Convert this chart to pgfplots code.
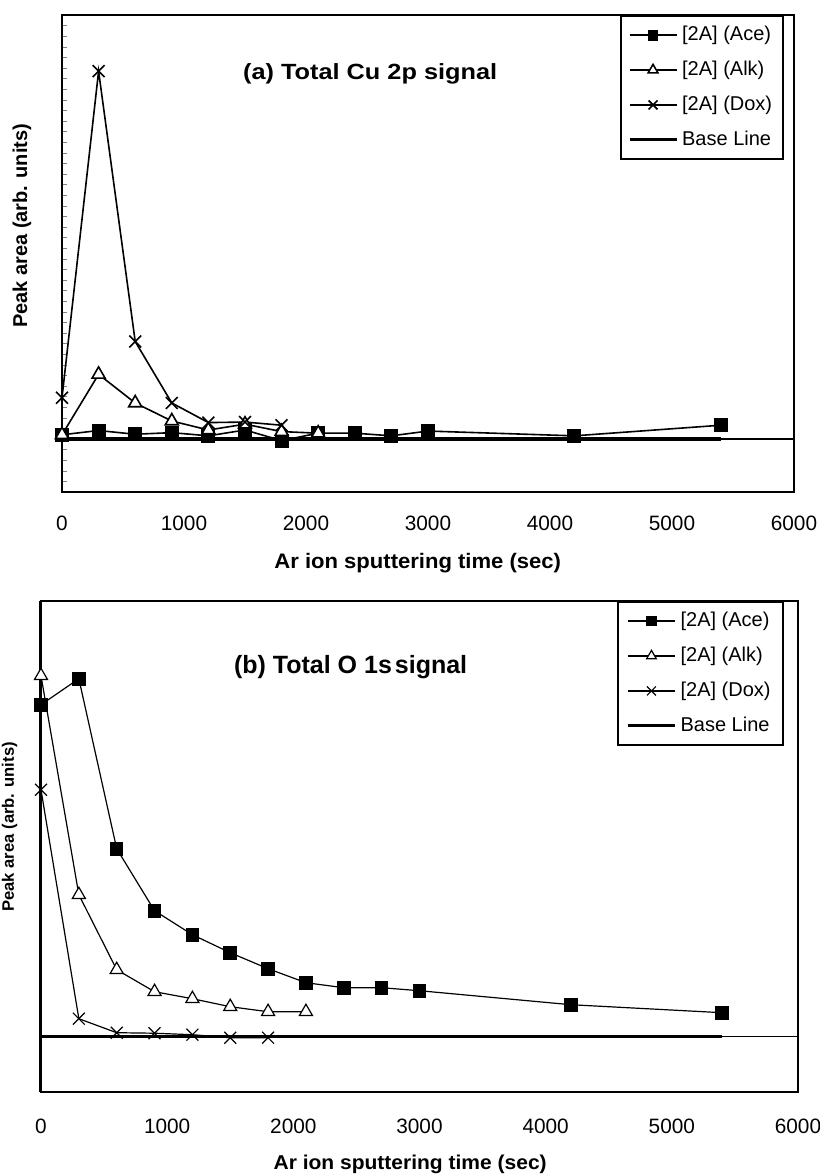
\documentclass[border=0pt]{standalone}
\usepackage{fontspec}
\setmainfont{Liberation Sans}
\newfontfamily\titlefont[FakeStretch=1.15]{Liberation Sans}
\newfontfamily\labfont[FakeStretch=1.05]{Liberation Sans}
\usepackage{pgfplots}
\pgfplotsset{compat=1.18}

\pgfplotsset{
  xpschart/.style={
    scale only axis, clip=false,
    xmin=0, xmax=6000,
    xtick={0,1000,...,6000},
    xticklabels={0,1000,2000,3000,4000,5000,6000},
    xtick style={draw=none},
    xticklabel style={font=\fontsize{10.4}{12}\selectfont, anchor=base},
    axis line style={line width=1pt},
    legend cell align=left,
    legend style={draw=black, line width=0.8pt, inner xsep=3.5pt, inner ysep=1.5pt,
      row sep=1.2pt, font=\fontsize{10}{12}\selectfont,
      nodes={inner xsep=2pt, inner ysep=3.33pt, text height=7.5pt, text depth=2.1pt}},
    legend image code/.code={\draw[mark repeat=2,mark phase=2,##1,every mark/.append style={scale=0.75}]
      plot coordinates {(0pt,0pt)(11.75pt,0pt)(23.5pt,0pt)};},
  },
  ace/.style={black, line width=#1, mark=square*, mark size=3.1pt, mark options={fill=black, solid}},
  alk/.style={black, line width=#1, mark=triangle*, mark size=3.75pt, mark options={fill=white, draw=black, solid}},
  dox/.style={black, line width=#1, mark=x, mark size=4.2pt, mark options={solid}},
}

\begin{document}
\begin{tikzpicture}
\useasboundingbox (0,0) rectangle (410pt,-587.5pt);

% (a) Cu 2p
\begin{axis}[xpschart,
  at={(31pt,-7.5pt)}, anchor=north west,
  width=366pt, height=238.5pt,
  ymin=-5, ymax=40,
  ytick={-5,...,40}, yticklabels={}, ytick pos=left, tick align=inside, major tick length=2.5pt,
  xticklabel style={yshift=-19pt},
  xlabel={\labfont\bfseries Ar ion sputtering time (sec)},
  xlabel style={at={(axis description cs:0.486,-0.16)}, anchor=base, font=\fontsize{10.5}{12}\selectfont},
  ylabel={\bfseries Peak area (arb. units)},
  ylabel style={at={(axis description cs:-0.0478,0.558)}, anchor=base, font=\fontsize{10}{12}\selectfont},
  legend style={at={(0.9863,1)}, anchor=north east},
]
\draw[line width=0.6pt] (axis cs:0,0) -- (axis cs:6000,0);
\addplot[ace=0.8pt] coordinates {
  (0,0.4) (300,0.8) (600,0.45) (900,0.6) (1200,0.3) (1500,0.85) (1800,-0.15)
  (2100,0.55) (2400,0.55) (2700,0.3) (3000,0.75) (4200,0.3) (5400,1.3)};
\addlegendentry{[2A] (Ace)}
\addplot[alk=0.8pt] coordinates {
  (0,0.4) (300,6.1) (600,3.4) (900,1.7) (1200,0.85) (1500,1.4) (1800,0.7) (2100,0.55)};
\addlegendentry{[2A] (Alk)}
\addplot[dox=0.8pt] coordinates {
  (0,3.9) (300,34.7) (600,9.2) (900,3.4) (1200,1.55) (1500,1.6) (1800,1.3)};
\addlegendentry{[2A] (Dox)}
\addplot[black, line width=1.6pt, no marks] coordinates {(0,0) (5400,0)};
\addlegendentry{Base Line}
\node[anchor=base, font=\fontsize{11}{13}\selectfont\titlefont\bfseries]
  at (rel axis cs:0.421,0.865) {(a) Total Cu 2p signal};
\end{axis}

% (b) O 1s
\begin{axis}[xpschart,
  at={(20.5pt,-300.5pt)}, anchor=north west,
  width=378.5pt, height=245.5pt,
  ymin=-5.53, ymax=43.57,
  ytick=\empty,
  xticklabel style={yshift=-20.7pt},
  xlabel={\labfont\bfseries Ar ion sputtering time (sec)},
  xlabel style={at={(axis description cs:0.4877,-0.1575)}, anchor=base, font=\fontsize{10}{12}\selectfont},
  ylabel={\bfseries Peak area (arb. units)},
  ylabel style={at={(axis description cs:-0.0357,0.54)}, anchor=base, font=\fontsize{8.3}{10}\selectfont},
  legend style={at={(0.9815,1)}, anchor=north east, inner xsep=4.3pt},
]
\draw[line width=0.6pt] (axis cs:0,0) -- (axis cs:6000,0);
\draw[line width=1.5pt] (rel axis cs:0,0) -- (rel axis cs:0,1);
\addplot[ace=0.6pt] coordinates {
  (0,33.2) (300,35.8) (600,18.8) (900,12.6) (1200,10.2) (1500,8.4) (1800,6.8)
  (2100,5.4) (2400,4.9) (2700,4.9) (3000,4.6) (4200,3.2) (5400,2.4)};
\addlegendentry{[2A] (Ace)}
\addplot[alk=0.6pt] coordinates {
  (0,36.1) (300,14.2) (600,6.7) (900,4.5) (1200,3.8) (1500,3.0) (1800,2.5) (2100,2.5)};
\addlegendentry{[2A] (Alk)}
\addplot[dox=0.6pt] coordinates {
  (0,24.7) (300,1.8) (600,0.4) (900,0.35) (1200,0.2) (1500,-0.1) (1800,-0.1)};
\addlegendentry{[2A] (Dox)}
\addplot[black, line width=1.6pt, no marks] coordinates {(0,0) (5400,0)};
\addlegendentry{Base Line}
\node[anchor=base, font=\fontsize{12.5}{14}\selectfont\bfseries]
  at (rel axis cs:0.409,0.853) {(b) Total O 1s\kern1.5pt signal};
\end{axis}
\end{tikzpicture}
\end{document}
